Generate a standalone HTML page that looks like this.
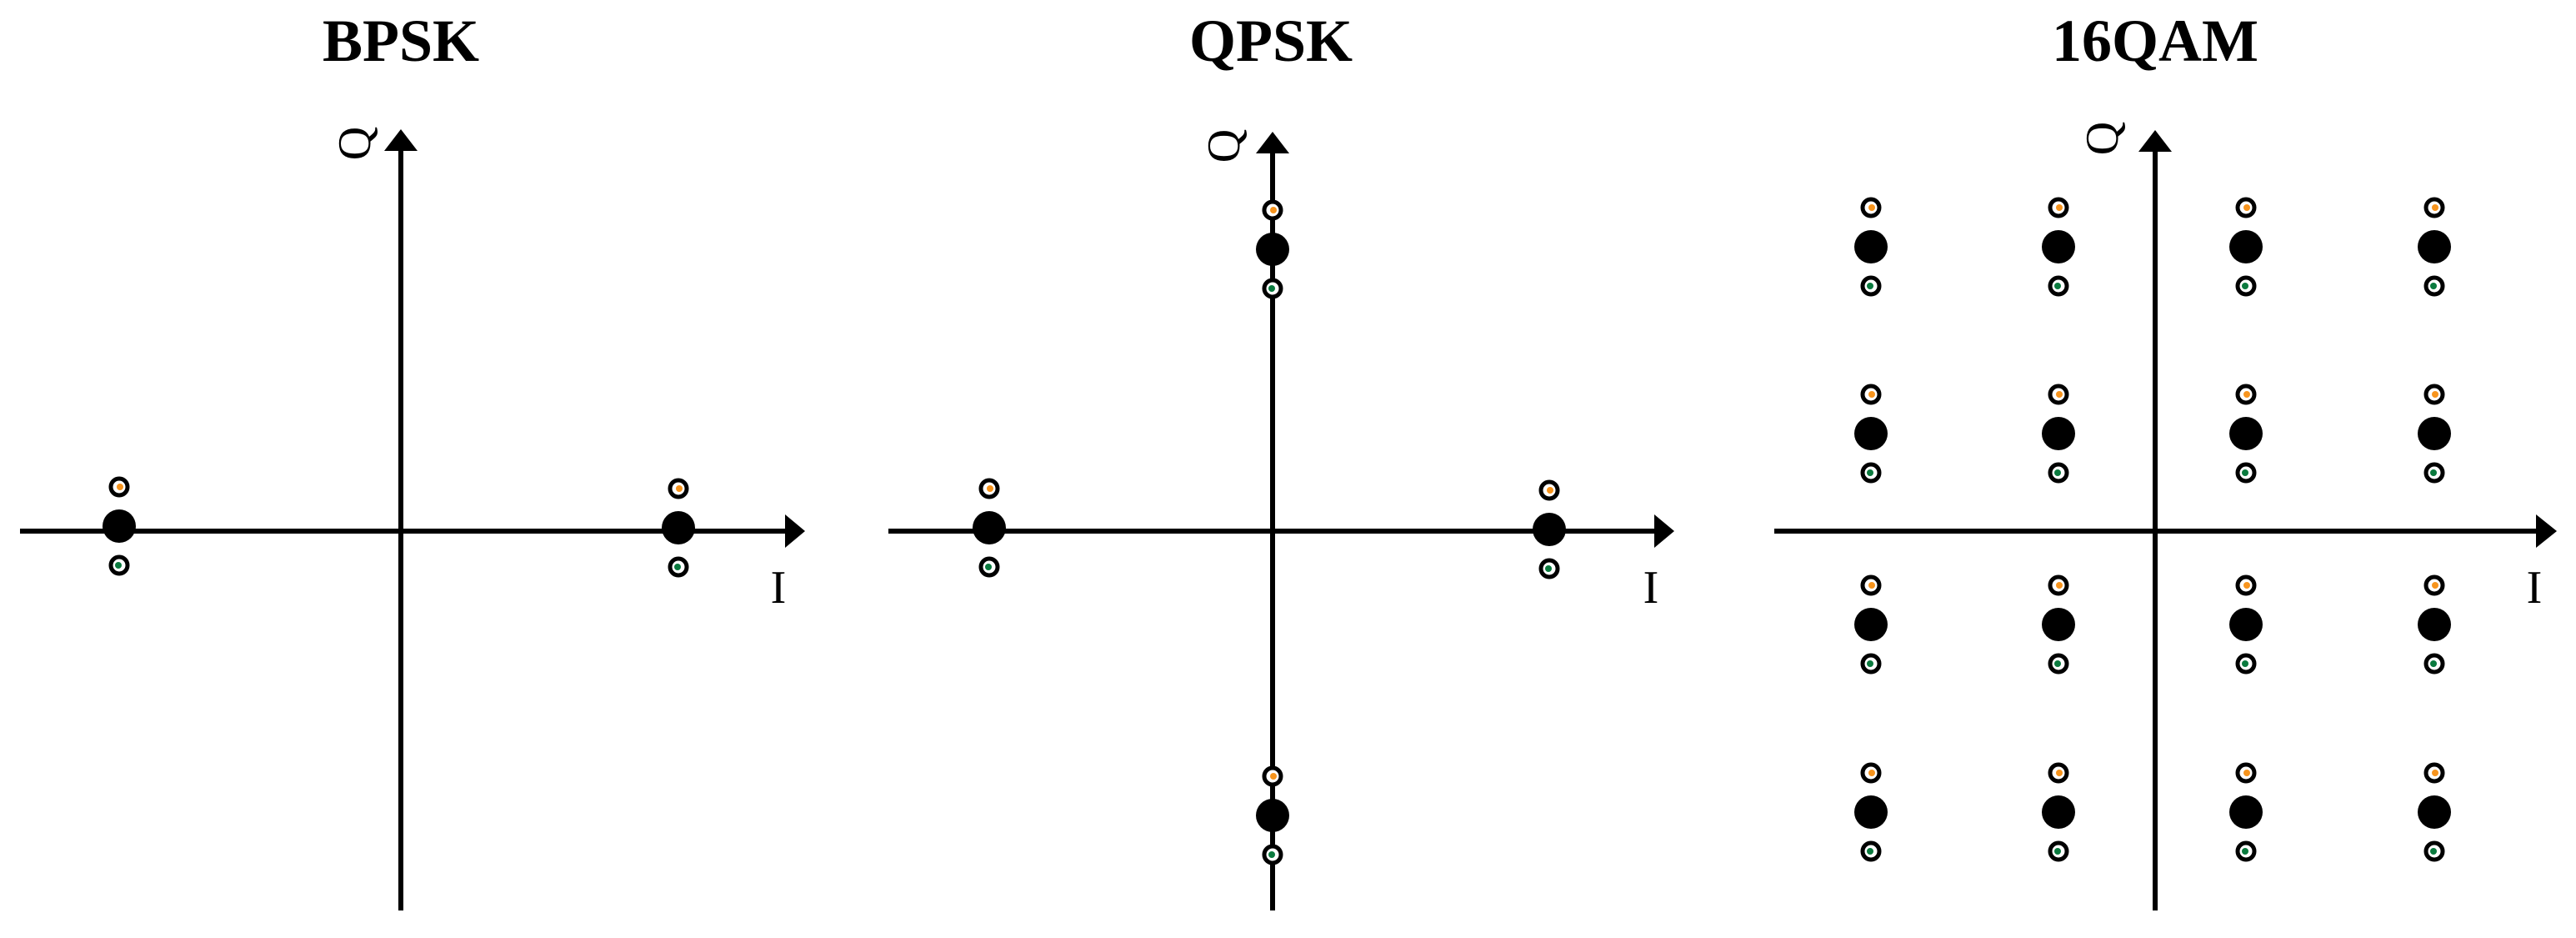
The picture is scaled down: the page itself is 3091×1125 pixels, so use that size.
<!DOCTYPE html>
<html><head><meta charset="utf-8"><style>html,body{margin:0;padding:0;background:#fff}svg{display:block}</style></head>
<body>
<svg width="3091" height="1125" viewBox="0 0 3091 1125" xmlns="http://www.w3.org/2000/svg">
<defs>
<g id="so"><circle r="10" fill="#fff" stroke="#000" stroke-width="5"/><circle cx="1" cy="0" r="4" fill="#f7941d"/></g>
<g id="sg"><circle r="10" fill="#fff" stroke="#000" stroke-width="5"/><circle cx="-1" cy="0" r="4" fill="#0a7a3e"/></g>
<g id="pt"><circle r="20" fill="#000"/><use href="#so" y="-47"/><use href="#sg" y="47"/></g>
</defs>
<g font-family="Liberation Serif, serif" fill="#000">
<text x="481" y="73" font-size="72" font-weight="bold" text-anchor="middle">BPSK</text>
<text x="1525" y="73" font-size="72" font-weight="bold" text-anchor="middle">QPSK</text>
<text x="2586" y="73" font-size="72" font-weight="bold" text-anchor="middle">16QAM</text>
<text x="934" y="723" font-size="56" text-anchor="middle">I</text>
<text x="1981" y="723" font-size="56" text-anchor="middle">I</text>
<text x="3041" y="723" font-size="56" text-anchor="middle">I</text>
<text transform="translate(444,172) rotate(-90)" font-size="56" text-anchor="middle">Q</text>
<text transform="translate(1487,175) rotate(-90)" font-size="56" text-anchor="middle">Q</text>
<text transform="translate(2541,166) rotate(-90)" font-size="56" text-anchor="middle">Q</text>
</g>
<g stroke="#000" stroke-width="6">
<line x1="481" y1="178" x2="481" y2="1092"/>
<line x1="24" y1="637" x2="942" y2="637"/>
<line x1="1527" y1="180" x2="1527" y2="1092"/>
<line x1="1066" y1="637" x2="1985" y2="637"/>
<line x1="2586" y1="178" x2="2586" y2="1092"/>
<line x1="2129" y1="637" x2="3046" y2="637"/>
</g>
<g fill="#000">
<polygon points="481,155 461,181 501,181"/>
<polygon points="966,637 942,617 942,657"/>
<polygon points="1527,158 1507,184 1547,184"/>
<polygon points="2009,637 1985,617 1985,657"/>
<polygon points="2586,156 2566,182 2606,182"/>
<polygon points="3068,637 3043,617 3043,657"/>
</g>
<use href="#pt" x="143" y="631"/>
<use href="#pt" x="814" y="633"/>
<use href="#pt" x="1187" y="633"/>
<use href="#pt" x="1859" y="635"/>
<use href="#pt" x="1527" y="299"/>
<use href="#pt" x="1527" y="978"/>
<use href="#pt" x="2245" y="296"/><use href="#pt" x="2470" y="296"/><use href="#pt" x="2695" y="296"/><use href="#pt" x="2921" y="296"/>
<use href="#pt" x="2245" y="520"/><use href="#pt" x="2470" y="520"/><use href="#pt" x="2695" y="520"/><use href="#pt" x="2921" y="520"/>
<use href="#pt" x="2245" y="749"/><use href="#pt" x="2470" y="749"/><use href="#pt" x="2695" y="749"/><use href="#pt" x="2921" y="749"/>
<use href="#pt" x="2245" y="974"/><use href="#pt" x="2470" y="974"/><use href="#pt" x="2695" y="974"/><use href="#pt" x="2921" y="974"/>
</svg>
</body></html>
